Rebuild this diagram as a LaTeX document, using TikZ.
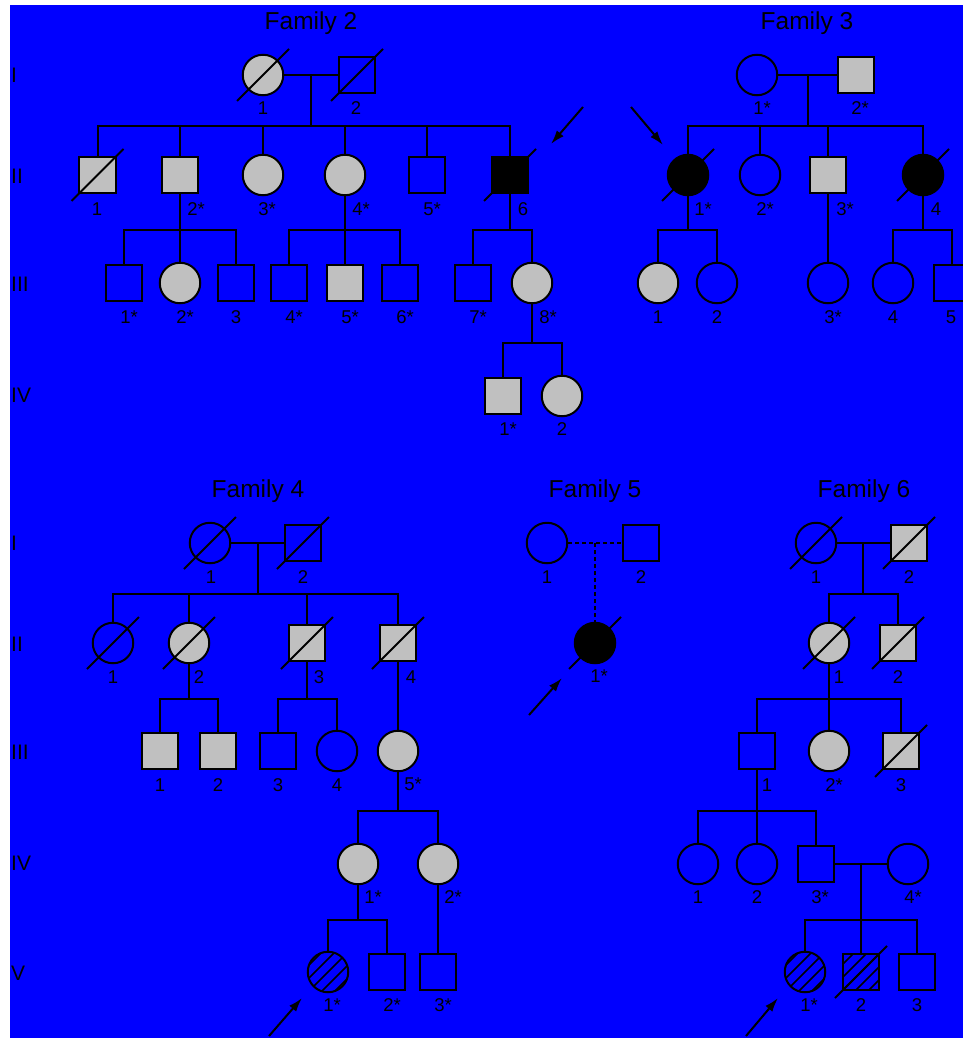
\documentclass[tikz,border=0pt]{standalone}
\usepackage{fontspec}
\setmainfont{Liberation Sans}
\usetikzlibrary{arrows.meta}
\definecolor{bgblue}{RGB}{0,0,255}
\definecolor{affgray}{RGB}{192,192,192}
\begin{document}
\begin{tikzpicture}[x=1pt,y=-1pt,
  ln/.style={line width=2pt},
  sq/.style={draw, rectangle, minimum size=36.5pt, inner sep=0pt, line width=2pt},
  ci/.style={draw, circle, minimum size=40.5pt, inner sep=0pt, line width=2pt},
  aff/.style={fill=affgray},
  blk/.style={fill=black},
  hatch/.style={path picture={\foreach \k in {-5,...,5}{\draw[line width=1.6pt] ([shift={(\k*13pt-30pt,-30pt)}]path picture bounding box.center) -- ++(60pt,60pt);}}},
  lbl/.style={font=\fontsize{18.5}{18.5}\selectfont, anchor=base, inner sep=0pt},
  gen/.style={font=\fontsize{21}{21}\selectfont, anchor=base west, inner sep=0pt},
  ttl/.style={font=\fontsize{24.5}{24.5}\selectfont, anchor=base, inner sep=0pt},
  slashline/.style={line width=2pt},
  arr/.style={-{Latex[length=14pt,width=9pt]}, line width=2pt},
  dots/.style={line width=2pt, dash pattern=on 4pt off 3pt},
]
\useasboundingbox (0,0) rectangle (963,1038);
\fill[white] (0,0) rectangle (963,1038);
\fill[bgblue] (10,5) rectangle (963,1038);

% generation labels
\node[gen] (g1a) at (11,83) {I};
\node[gen] (g2a) at (11,183) {II};
\node[gen] (g3a) at (11,291) {III};
\node[gen] (g4a) at (11,402) {IV};
\node[gen] (g1b) at (11,550) {I};
\node[gen] (g2b) at (11,651) {II};
\node[gen] (g3b) at (11,759) {III};
\node[gen] (g4b) at (11,870) {IV};
\node[gen] (g5b) at (11,980) {V};

% titles
\node[ttl] (t2) at (311,29.5) {Family 2};
\node[ttl] (t3) at (807,29.5) {Family 3};
\node[ttl] (t4) at (258,497) {Family 4};
\node[ttl] (t5) at (595,497) {Family 5};
\node[ttl] (t6) at (864,497) {Family 6};

% ================= Family 2
\node[ci,aff] (f2i1) at (263,75) {};
\node[sq] (f2i2) at (357,75) {};
\coordinate (f2m) at (311,75);
\coordinate (f2s2) at (311,126);
\node[sq,aff] (f2ii1) at (97.5,175) {};
\node[sq,aff] (f2ii2) at (180,175) {};
\node[ci,aff] (f2ii3) at (263,175) {};
\node[ci,aff] (f2ii4) at (345,175) {};
\node[sq] (f2ii5) at (427,175) {};
\node[sq,blk] (f2ii6) at (510,175) {};
\node[sq] (f2iii1) at (124,283) {};
\node[ci,aff] (f2iii2) at (180,283) {};
\node[sq] (f2iii3) at (236,283) {};
\node[sq] (f2iii4) at (289,283) {};
\node[sq,aff] (f2iii5) at (345,283) {};
\node[sq] (f2iii6) at (400,283) {};
\node[sq] (f2iii7) at (473,283) {};
\node[ci,aff] (f2iii8) at (532,283) {};
\node[sq,aff] (f2iv1) at (503,396) {};
\node[ci,aff] (f2iv2) at (562,396) {};
\coordinate (f2s3a) at (180,230);
\coordinate (f2s3b) at (345,230);
\coordinate (f2s3c) at (510,230);
\coordinate (f2s4) at (532,343);

\draw[ln] (f2i1) -- (f2i2);
\draw[ln] (f2m) -- (f2s2);
\draw[ln] (f2ii1.north) |- (f2s2) -| (f2ii6.north);
\foreach \n in {f2ii2,f2ii3,f2ii4,f2ii5} \draw[ln] (\n.north) -- (\n.north |- f2s2);
\draw[ln] (f2ii2.south) -- (f2iii2.north);
\draw[ln] (f2iii1.north) |- (f2s3a) -| (f2iii3.north);
\draw[ln] (f2ii4.south) -- (f2iii5.north);
\draw[ln] (f2iii4.north) |- (f2s3b) -| (f2iii6.north);
\draw[ln] (f2ii6.south) -- (f2s3c);
\draw[ln] (f2iii7.north) |- (f2s3c) -| (f2iii8.north);
\draw[ln] (f2iii8.south) -- (f2s4);
\draw[ln] (f2iv1.north) |- (f2s4) -| (f2iv2.north);

\node[lbl] (f2i1l) at (263,114.5) {1};
\node[lbl] (f2i2l) at (356,114.5) {2};
\node[lbl] (f2ii1l) at (97,215.5) {1};
\node[lbl] (f2ii2l) at (196,215.5) {2*};
\node[lbl] (f2ii3l) at (267,215.5) {3*};
\node[lbl] (f2ii4l) at (361,215.5) {4*};
\node[lbl] (f2ii5l) at (432,215.5) {5*};
\node[lbl] (f2ii6l) at (523,215.5) {6};
\node[lbl] (f2iii1l) at (129,323.5) {1*};
\node[lbl] (f2iii2l) at (185,323.5) {2*};
\node[lbl] (f2iii3l) at (236,323.5) {3};
\node[lbl] (f2iii4l) at (294,323.5) {4*};
\node[lbl] (f2iii5l) at (350,323.5) {5*};
\node[lbl] (f2iii6l) at (405,323.5) {6*};
\node[lbl] (f2iii7l) at (478,323.5) {7*};
\node[lbl] (f2iii8l) at (548,323.5) {8*};
\node[lbl] (f2iv1l) at (508,435.5) {1*};
\node[lbl] (f2iv2l) at (562,435.5) {2};

% ================= Family 3
\node[ci] (f3i1) at (757,75) {};
\node[sq,aff] (f3i2) at (856,75) {};
\coordinate (f3m) at (808,75);
\coordinate (f3s2) at (808,126);
\node[ci,blk] (f3ii1) at (688,175) {};
\node[ci] (f3ii2) at (760,175) {};
\node[sq,aff] (f3ii3) at (828,175) {};
\node[ci,blk] (f3ii4) at (923,175) {};
\node[ci,aff] (f3iii1) at (658,283) {};
\node[ci] (f3iii2) at (717,283) {};
\node[ci] (f3iii3) at (828,283) {};
\node[ci] (f3iii4) at (893,283) {};
\node[sq] (f3iii5) at (952,283) {};
\coordinate (f3s3a) at (688,230);
\coordinate (f3s3b) at (923,230);

\draw[ln] (f3i1) -- (f3i2);
\draw[ln] (f3m) -- (f3s2);
\draw[ln] (f3ii1.north) |- (f3s2) -| (f3ii4.north);
\foreach \n in {f3ii2,f3ii3} \draw[ln] (\n.north) -- (\n.north |- f3s2);
\draw[ln] (f3ii1.south) -- (f3s3a);
\draw[ln] (f3iii1.north) |- (f3s3a) -| (f3iii2.north);
\draw[ln] (f3ii3.south) -- (f3iii3.north);
\draw[ln] (f3ii4.south) -- (f3s3b);
\draw[ln] (f3iii4.north) |- (f3s3b) -| (f3iii5.north);

\node[lbl] (f3i1l) at (762,114.5) {1*};
\node[lbl] (f3i2l) at (860,114.5) {2*};
\node[lbl] (f3ii1l) at (703,215.5) {1*};
\node[lbl] (f3ii2l) at (765,215.5) {2*};
\node[lbl] (f3ii3l) at (845,215.5) {3*};
\node[lbl] (f3ii4l) at (936,215.5) {4};
\node[lbl] (f3iii1l) at (658,323.5) {1};
\node[lbl] (f3iii2l) at (717,323.5) {2};
\node[lbl] (f3iii3l) at (833,323.5) {3*};
\node[lbl] (f3iii4l) at (893,323.5) {4};
\node[lbl] (f3iii5l) at (951,323.5) {5};

% arrows top
\coordinate (a1s) at (583,107); \coordinate (a1e) at (551,144);
\coordinate (a2s) at (631,107); \coordinate (a2e) at (663,145);
\draw[arr] (a1s) -- (a1e);
\draw[arr] (a2s) -- (a2e);

% ================= Family 4
\node[ci] (f4i1) at (210,543) {};
\node[sq] (f4i2) at (303,543) {};
\coordinate (f4m) at (258,543);
\coordinate (f4s2) at (258,594);
\node[ci] (f4ii1) at (113,643) {};
\node[ci,aff] (f4ii2) at (189,643) {};
\node[sq,aff] (f4ii3) at (307,643) {};
\node[sq,aff] (f4ii4) at (398,643) {};
\node[sq,aff] (f4iii1) at (160,751) {};
\node[sq,aff] (f4iii2) at (218,751) {};
\node[sq] (f4iii3) at (278,751) {};
\node[ci] (f4iii4) at (337,751) {};
\node[ci,aff] (f4iii5) at (398,751) {};
\node[ci,aff] (f4iv1) at (358,864) {};
\node[ci,aff] (f4iv2) at (438,864) {};
\node[ci,hatch] (f4v1) at (328,972) {};
\node[sq] (f4v2) at (387,972) {};
\node[sq] (f4v3) at (438,972) {};
\coordinate (f4s3a) at (189,699);
\coordinate (f4s3b) at (307,699);
\coordinate (f4s4) at (398,811);
\coordinate (f4s5) at (358,920);

\draw[ln] (f4i1) -- (f4i2);
\draw[ln] (f4m) -- (f4s2);
\draw[ln] (f4ii1.north) |- (f4s2) -| (f4ii4.north);
\foreach \n in {f4ii2,f4ii3} \draw[ln] (\n.north) -- (\n.north |- f4s2);
\draw[ln] (f4ii2.south) -- (f4s3a);
\draw[ln] (f4iii1.north) |- (f4s3a) -| (f4iii2.north);
\draw[ln] (f4ii3.south) -- (f4s3b);
\draw[ln] (f4iii3.north) |- (f4s3b) -| (f4iii4.north);
\draw[ln] (f4ii4.south) -- (f4iii5.north);
\draw[ln] (f4iii5.south) -- (f4s4);
\draw[ln] (f4iv1.north) |- (f4s4) -| (f4iv2.north);
\draw[ln] (f4iv1.south) -- (f4s5);
\draw[ln] (f4v1.north) |- (f4s5) -| (f4v2.north);
\draw[ln] (f4iv2.south) -- (f4v3.north);

\node[lbl] (f4i1l) at (211,583.5) {1};
\node[lbl] (f4i2l) at (303,583.5) {2};
\node[lbl] (f4ii1l) at (113,683.5) {1};
\node[lbl] (f4ii2l) at (199,683.5) {2};
\node[lbl] (f4ii3l) at (319,683.5) {3};
\node[lbl] (f4ii4l) at (411,683.5) {4};
\node[lbl] (f4iii1l) at (160,791.5) {1};
\node[lbl] (f4iii2l) at (218,791.5) {2};
\node[lbl] (f4iii3l) at (278,791.5) {3};
\node[lbl] (f4iii4l) at (337,791.5) {4};
\node[lbl] (f4iii5l) at (413,790.5) {5*};
\node[lbl] (f4iv1l) at (373,903.5) {1*};
\node[lbl] (f4iv2l) at (453,903.5) {2*};
\node[lbl] (f4v1l) at (332,1011.5) {1*};
\node[lbl] (f4v2l) at (392,1011.5) {2*};
\node[lbl] (f4v3l) at (443,1011.5) {3*};

\coordinate (a4s) at (269,1036); \coordinate (a4e) at (302,998);
\draw[arr] (a4s) -- (a4e);

% ================= Family 5
\node[ci] (f5i1) at (547,543) {};
\node[sq] (f5i2) at (641,543) {};
\coordinate (f5m) at (595,543);
\node[ci,blk] (f5ii1) at (595,643) {};
\draw[dots] (f5i1) -- (f5i2);
\draw[dots] (f5m) -- (f5ii1.north);
\node[lbl] (f5i1l) at (547,583.5) {1};
\node[lbl] (f5i2l) at (641,583.5) {2};
\node[lbl] (f5ii1l) at (599,682.5) {1*};
\coordinate (a5s) at (529,715); \coordinate (a5e) at (562,678);
\draw[arr] (a5s) -- (a5e);

% ================= Family 6
\node[ci] (f6i1) at (816,543) {};
\node[sq,aff] (f6i2) at (909,543) {};
\coordinate (f6m) at (863,543);
\coordinate (f6s2) at (863,594);
\node[ci,aff] (f6ii1) at (829,643) {};
\node[sq,aff] (f6ii2) at (898,643) {};
\node[sq] (f6iii1) at (757,751) {};
\node[ci,aff] (f6iii2) at (829,751) {};
\node[sq,aff] (f6iii3) at (901,751) {};
\node[ci] (f6iv1) at (698,864) {};
\node[ci] (f6iv2) at (757,864) {};
\node[sq] (f6iv3) at (816,864) {};
\node[ci] (f6iv4) at (908,864) {};
\node[ci,hatch] (f6v1) at (805,972) {};
\node[sq,hatch] (f6v2) at (861,972) {};
\node[sq] (f6v3) at (917,972) {};
\coordinate (f6s3) at (829,699);
\coordinate (f6s4) at (757,811);
\coordinate (f6m2) at (861,864);
\coordinate (f6s5) at (861,920);

\draw[ln] (f6i1) -- (f6i2);
\draw[ln] (f6m) -- (f6s2);
\draw[ln] (f6ii1.north) |- (f6s2) -| (f6ii2.north);
\draw[ln] (f6ii1.south) -- (f6iii2.north);
\draw[ln] (f6iii1.north) |- (f6s3) -| (f6iii3.north);
\draw[ln] (f6iii1.south) -- (f6iv2.north);
\draw[ln] (f6iv1.north) |- (f6s4) -| (f6iv3.north);
\draw[ln] (f6iv3) -- (f6iv4);
\draw[ln] (f6m2) -- (f6s5);
\draw[ln] (f6v1.north) |- (f6s5) -| (f6v3.north);
\draw[ln] (f6v2.north) -- (f6s5);

\node[lbl] (f6i1l) at (816,583.5) {1};
\node[lbl] (f6i2l) at (909,583.5) {2};
\node[lbl] (f6ii1l) at (839,683.5) {1};
\node[lbl] (f6ii2l) at (898,683.5) {2};
\node[lbl] (f6iii1l) at (767,791.5) {1};
\node[lbl] (f6iii2l) at (834,791.5) {2*};
\node[lbl] (f6iii3l) at (901,791.5) {3};
\node[lbl] (f6iv1l) at (698,903.5) {1};
\node[lbl] (f6iv2l) at (757,903.5) {2};
\node[lbl] (f6iv3l) at (820,903.5) {3*};
\node[lbl] (f6iv4l) at (913,903.5) {4*};
\node[lbl] (f6v1l) at (809,1011.5) {1*};
\node[lbl] (f6v2l) at (861,1011.5) {2};
\node[lbl] (f6v3l) at (917,1011.5) {3};

\coordinate (a6s) at (746,1036); \coordinate (a6e) at (778,998);
\draw[arr] (a6s) -- (a6e);

% deceased slashes
\foreach \n in {f2i1,f2i2,f2ii1,f2ii6,f3ii1,f3ii4,f4i1,f4i2,f4ii1,f4ii2,f4ii3,f4ii4,f5ii1,f6i1,f6i2,f6ii1,f6ii2,f6iii3,f6v2}
  \draw[slashline] (\n.center) ++(-26,26) -- ++(52,-52);
\end{tikzpicture}
\end{document}
